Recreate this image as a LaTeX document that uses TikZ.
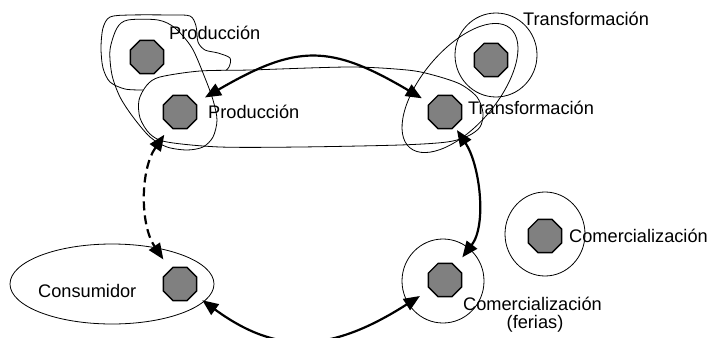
\documentclass[tikz,border=0pt]{standalone}
\usepackage{fontspec}
\setmainfont{Liberation Sans}
\usetikzlibrary{shapes.geometric,arrows.meta}
\definecolor{octgray}{RGB}{128,128,128}
\begin{document}
\begin{tikzpicture}[x=1pt,y=-1pt,
  outline/.style={draw=black,line width=0.8pt},
  agent/.style={regular polygon,regular polygon sides=8,minimum size=36pt,
    inner sep=0pt,draw=black,line width=1.4pt,fill=octgray},
  tag/.style={inner sep=0pt,font=\fontsize{18.2}{21}\selectfont},
  tipstyle/.style={{Triangle[length=16pt,width=13pt]}-{Triangle[length=16pt,width=13pt]}},
  flow/.style={tipstyle,line width=2.2pt},
  flowdash/.style={tipstyle,line width=2.2pt,dash pattern=on 9pt off 5pt}]
\useasboundingbox (0,0) rectangle (711,337);
\clip (0,0) rectangle (711,337);

% freeform region around the first production site
\draw[outline] plot[smooth] coordinates {(143,90) (125,89) (110,82) (103,68)
  (101,48) (103,28) (110,17) (130,15) (170,15) (190,16) (196,26) (198,42)
  (205,50) (218,53) (230,58) (229,67) (223,73)};
% long band joining production and transformation
\draw[outline,fill=white] plot[smooth cycle] coordinates {(200,71) (250,70)
  (350,67) (407,70) (433,75) (460,84) (477,97) (483,113) (480,127) (468,136)
  (447,142) (400,145) (300,147) (220,147) (167,142) (150,134) (140,118)
  (139,100) (147,85) (160,77)};
% tilted loop around both production sites
\draw[outline] plot[smooth cycle] coordinates {(128,20) (158,20) (175,28)
  (192,48) (205,78) (213,100) (217,120) (213,137) (203,147) (187,150)
  (167,147) (150,137) (133,117) (120,97) (112,75) (110,50) (117,28)};
% tilted loop around both transformation sites
\draw[outline,rotate around={50:(460,88)}] (460,88) ellipse [x radius=78pt, y radius=38pt];
% rings around the single sites
\draw[outline] (496,55) ellipse [x radius=41pt, y radius=42pt];
\draw[outline] (545,234) ellipse [x radius=40pt, y radius=42pt];
\draw[outline] (443,281) ellipse [x radius=41pt, y radius=42pt];
\draw[outline] (112,284) ellipse [x radius=102pt, y radius=40pt];

% sites
\node[agent] (pa) at (147,57) {};
\node[agent] (pb) at (180,112) {};
\node[agent] (ta) at (491,60) {};
\node[agent] (tb) at (445,112) {};
\node[agent] (cr) at (545,236) {};
\node[agent] (cf) at (445,280) {};
\node[agent] (cons) at (180,284) {};

% labels
\node[tag,anchor=base west] (lpa) at (169,40) {Producción};
\node[tag,anchor=base west] (lpb) at (208,118) {Producción};
\node[tag,anchor=base west] (lta) at (523,26) {Transformación};
\node[tag,anchor=base west] (ltb) at (468,114) {Transformación};
\node[tag,anchor=base west] (lcr) at (569,242) {Comercialización};
\node[tag,anchor=base west] (lcf) at (463,310) {Comercialización};
\node[tag,anchor=base] (lfe) at (535,328) {(ferias)};
\node[tag,anchor=base west] (lco) at (38,297) {Consumidor};

% exchanges between sites
\draw[flow,shorten <=11pt,shorten >=9pt] (pb) .. controls (297,44) and (330,44) .. (tb);
\draw[flow,shorten <=4pt,shorten >=11pt] (tb) .. controls (480,165) and (487,225) .. (cf);
\draw[flow,shorten <=10pt,shorten >=12pt] (cons) .. controls (276,354) and (329,354) .. (cf);
\draw[flowdash,shorten <=10pt,shorten >=12pt] (pb) .. controls (140,170) and (140,225) .. (cons);
\end{tikzpicture}
\end{document}
